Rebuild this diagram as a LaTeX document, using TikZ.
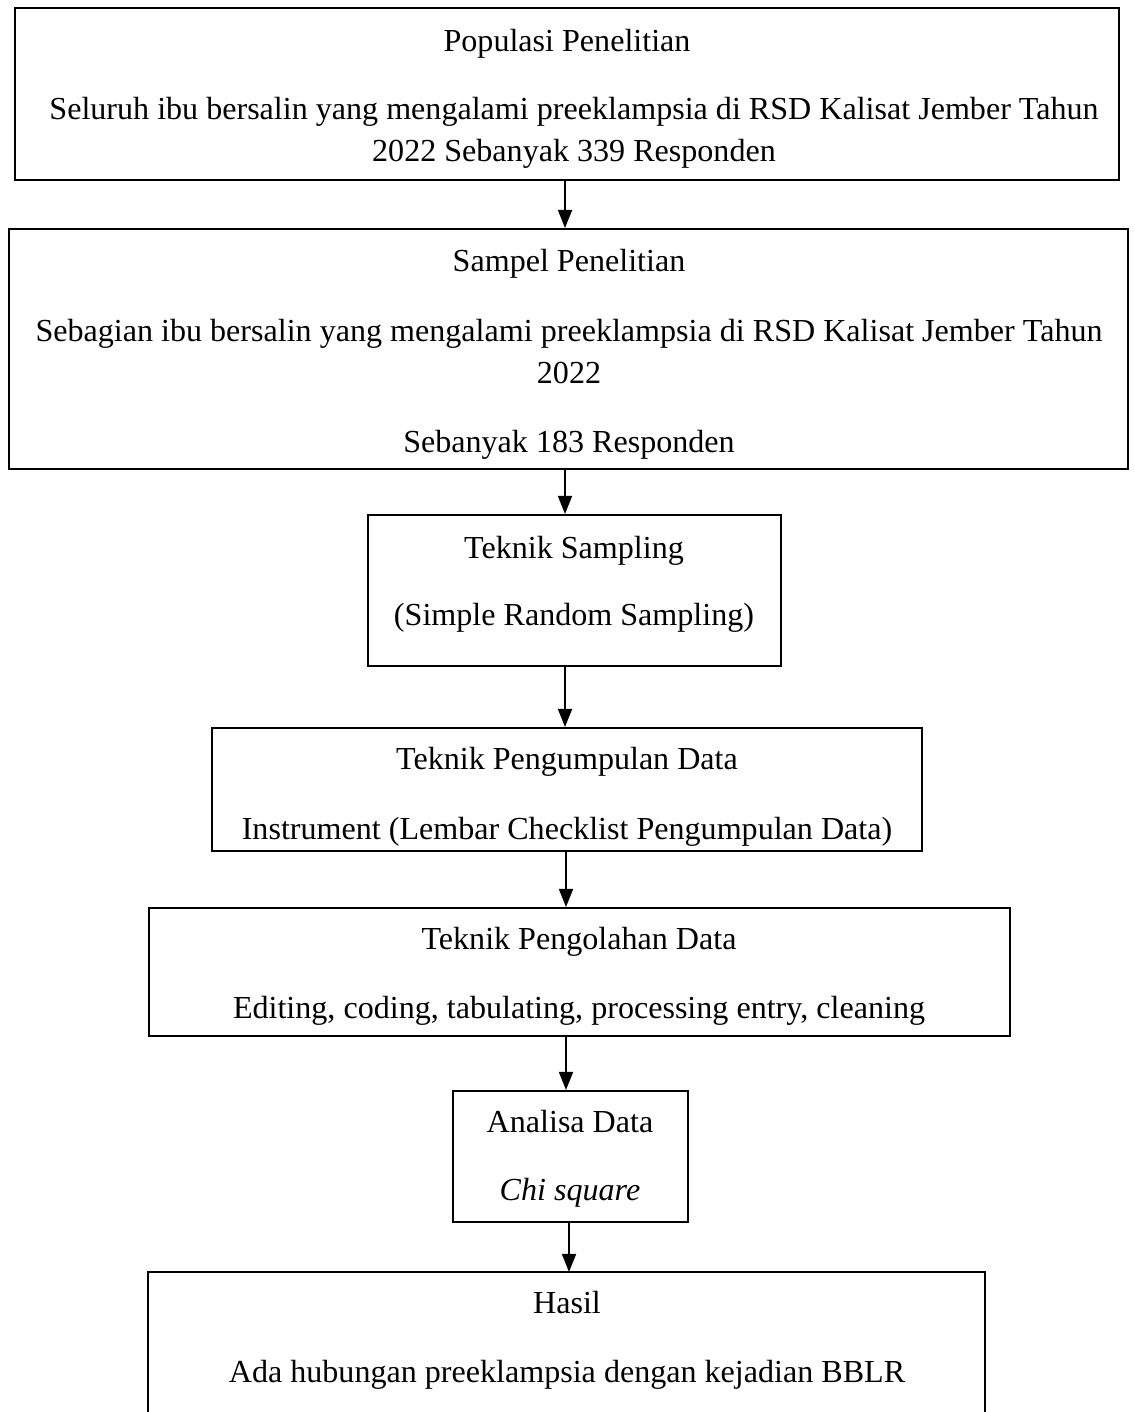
\documentclass[tikz,border=0pt]{standalone}
\usepackage{fontspec}
\setmainfont{Liberation Serif}
\usetikzlibrary{arrows.meta}
\begin{document}
\begin{tikzpicture}[x=0.36pt,y=-0.36pt,
  box/.style={draw,line width=0.7pt,rectangle,inner sep=0pt},
  txt/.style={inner sep=0pt,font=\fontsize{11.55pt}{14pt}\selectfont,text height=8pt,text depth=2.5pt,yshift=-1.4pt},
  arr/.style={line width=0.7pt,-{Triangle[length=6.5pt,width=5pt]}}]
\useasboundingbox (0,0) rectangle (1134,1412);
% boxes
\node[box,minimum width=1104*0.36pt,minimum height=172*0.36pt] (b1) at (567,94) {};
\node[box,minimum width=1119*0.36pt,minimum height=240*0.36pt] (b2) at (568.5,349) {};
\node[box,minimum width=413*0.36pt,minimum height=151*0.36pt] (b3) at (574.5,590.5) {};
\node[box,minimum width=710*0.36pt,minimum height=123*0.36pt] (b4) at (567,789.5) {};
\node[box,minimum width=861*0.36pt,minimum height=128*0.36pt] (b5) at (579.5,972) {};
\node[box,minimum width=235*0.36pt,minimum height=131*0.36pt] (b6) at (570.5,1156.5) {};
\coordinate (b7tl) at (148,1272);
\coordinate (b7tr) at (985,1272);
\coordinate (b7bl) at (148,1420);
\coordinate (b7br) at (985,1420);
\coordinate (b7top) at (569,1272);
\draw[line width=0.7pt] (b7bl) -- (b7tl) -- (b7tr) -- (b7br);
% texts
\node[txt] (t1a) at (567,40) {Populasi Penelitian};
\node[txt] (t1b) at (574,108) {Seluruh ibu bersalin yang mengalami preeklampsia di RSD Kalisat Jember Tahun};
\node[txt] (t1c) at (574,150) {2022 Sebanyak 339 Responden};
\node[txt] (t2a) at (569,260) {Sampel Penelitian};
\node[txt] (t2b) at (569,330) {Sebagian ibu bersalin yang mengalami preeklampsia di RSD Kalisat Jember Tahun};
\node[txt] (t2c) at (569,372) {2022};
\node[txt] (t2d) at (569,441) {Sebanyak 183 Responden};
\node[txt] (t3a) at (574,547) {Teknik Sampling};
\node[txt] (t3b) at (574,614) {(Simple Random Sampling)};
\node[txt] (t4a) at (567,758) {Teknik Pengumpulan Data};
\node[txt] (t4b) at (567,828) {Instrument (Lembar Checklist Pengumpulan Data)};
\node[txt] (t5a) at (579,938) {Teknik Pengolahan Data};
\node[txt] (t5b) at (579,1007) {Editing, coding, tabulating, processing entry, cleaning};
\node[txt] (t6a) at (570,1121) {Analisa Data};
\node[txt] (t6b) at (570,1189) {\itshape Chi square};
\node[txt] (t7a) at (567,1302) {Hasil};
\node[txt] (t7b) at (567,1371) {Ada hubungan preeklampsia dengan kejadian BBLR};
% arrows
\coordinate (x1) at (565,0);
\coordinate (x4) at (566,0);
\coordinate (x6) at (569,0);
\draw[arr] (b1.south -| x1) -- (b2.north -| x1);
\draw[arr] (b2.south -| x1) -- (b3.north -| x1);
\draw[arr] (b3.south -| x1) -- (b4.north -| x1);
\draw[arr] (b4.south -| x4) -- (b5.north -| x4);
\draw[arr] (b5.south -| x4) -- (b6.north -| x4);
\draw[arr] (b6.south -| x6) -- (b7top);
\end{tikzpicture}
\end{document}
